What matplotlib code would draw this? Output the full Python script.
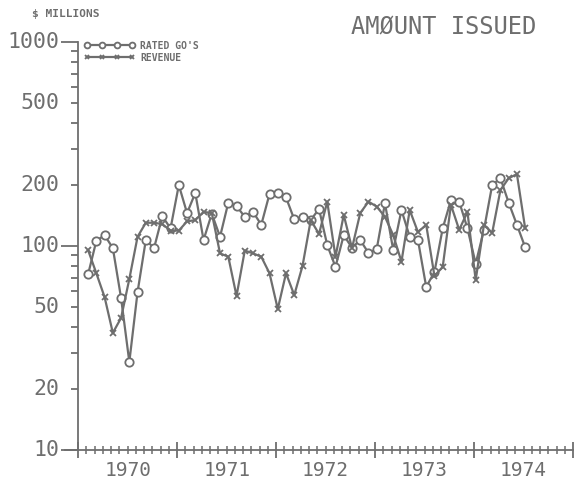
import numpy as np
import matplotlib
matplotlib.use("Agg")
from matplotlib import pyplot as plt
from matplotlib.ticker import FixedLocator, FixedFormatter, NullFormatter

# monthly series, Jan 1970 .. Jun 1974 ($ millions)
rated_go = [72.6, 106, 113, 97.7, 55.6, 27, 59.5, 107, 97.7, 140, 122, 199,
            145, 182, 107, 144, 111, 163, 157, 139, 147, 127, 180, 182,
            173, 135, 139, 134, 152, 101, 79, 113, 98, 107, 92.4, 96.7,
            162, 95.5, 150, 111, 107, 63, 74.6, 122, 168, 165, 122, 82,
            120, 199, 215, 163, 127, 98.6]
revenue = [95.5, 73.5, 56.2, 37.5, 44.4, 68.9, 111, 130, 130, 128, 119, 119,
           132, 134, 147, 145, 92, 88.6, 56.9, 95, 92, 88.6, 73.5, 49.1,
           73.5, 57.5, 79.8, 134, 114.5, 165, 88.6, 142, 97.5, 145, 165, 156,
           139, 113, 83.8, 150, 117, 127, 71.3, 79, 159, 120, 147, 68.1,
           127, 116, 188, 215, 225, 122]
years = [1970, 1971, 1972, 1973, 1974]
y_major = [10, 100, 1000]
y_labels = [10, 20, 50, 100, 200, 500, 1000]

gray = '#6e6e6e'
mono = 'DejaVu Sans Mono'

fig = plt.figure(figsize=(5.77, 4.79), dpi=100)
ax = fig.add_axes([65/577, 29/479, (573-65)/577, (450-42)/479])

# months since Jan 1970; points sit a little after each month tick
t = np.arange(len(rated_go)) + 1.2

ax.plot(t, rated_go, color=gray, lw=1.6, marker='o', ms=6,
        mfc='white', mec=gray, mew=1.3)
ax.plot(t, revenue, color=gray, lw=1.6, marker='x', ms=4.5, mew=1.3)

ax.set_yscale('log')
ax.set_ylim(10, 1000)
ax.set_xlim(-1.6, 12*len(years))

for s in ['top', 'right']:
    ax.spines[s].set_visible(False)
ax.spines['left'].set_position(('data', 0))
for s in ['left', 'bottom']:
    ax.spines[s].set_color(gray)
    ax.spines[s].set_linewidth(1.3)

# y axis: long ticks on decades, short on the rest, labels at 1-2-5
ax.yaxis.set_major_locator(FixedLocator(y_major))
ax.yaxis.set_major_formatter(NullFormatter())
minor_y = [m*10**k for k in (1, 2) for m in range(2, 10)]
ax.yaxis.set_minor_locator(FixedLocator(minor_y))
ax.yaxis.set_minor_formatter(NullFormatter())
ax.tick_params(axis='y', which='major', length=12, width=1.3, color=gray)
ax.tick_params(axis='y', which='minor', length=5, width=1.3, color=gray)
for v in y_labels:
    ax.text(-2.3, v, str(v), ha='right', va='center', fontsize=15.5,
            family=mono, color=gray)

# x axis: year ticks and monthly ticks crossing the line
ax.xaxis.set_major_locator(FixedLocator([12*i for i in range(len(years) + 1)]))
ax.xaxis.set_major_formatter(NullFormatter())
months = [m for m in range(12*len(years)) if m % 12 != 0]
minor_lab = [str(years[m // 12]) if m % 12 == 6 else '' for m in months]
ax.xaxis.set_minor_locator(FixedLocator(months))
ax.xaxis.set_minor_formatter(FixedFormatter(minor_lab))
ax.tick_params(axis='x', which='major', direction='inout', length=12,
               width=1.3, color=gray)
ax.tick_params(axis='x', which='minor', direction='inout', length=6,
               width=1.1, color=gray, labelsize=14, labelcolor=gray, pad=5)
for lab in ax.xaxis.get_minorticklabels():
    lab.set_family(mono)

fig.text(32/577, 1 - 14/479, '$ MILLIONS', fontsize=8, family=mono,
         color=gray, va='center', ha='left', weight='bold')
fig.text(536/577, 1 - 27/479, 'AMØUNT ISSUED', fontsize=17, family=mono,
         color=gray, va='center', ha='right')

leg = ax.legend(['RATED GO\'S', 'REVENUE'], loc='upper left',
                bbox_to_anchor=(0.028, 1.015), frameon=False,
                handlelength=5.2, handletextpad=0.6, labelspacing=0.2,
                prop={'family': mono, 'size': 7, 'weight': 'bold'},
                markerscale=0.7, numpoints=4, borderpad=0)
for txt in leg.get_texts():
    txt.set_color(gray)

fig.savefig('out.png', dpi=100)
